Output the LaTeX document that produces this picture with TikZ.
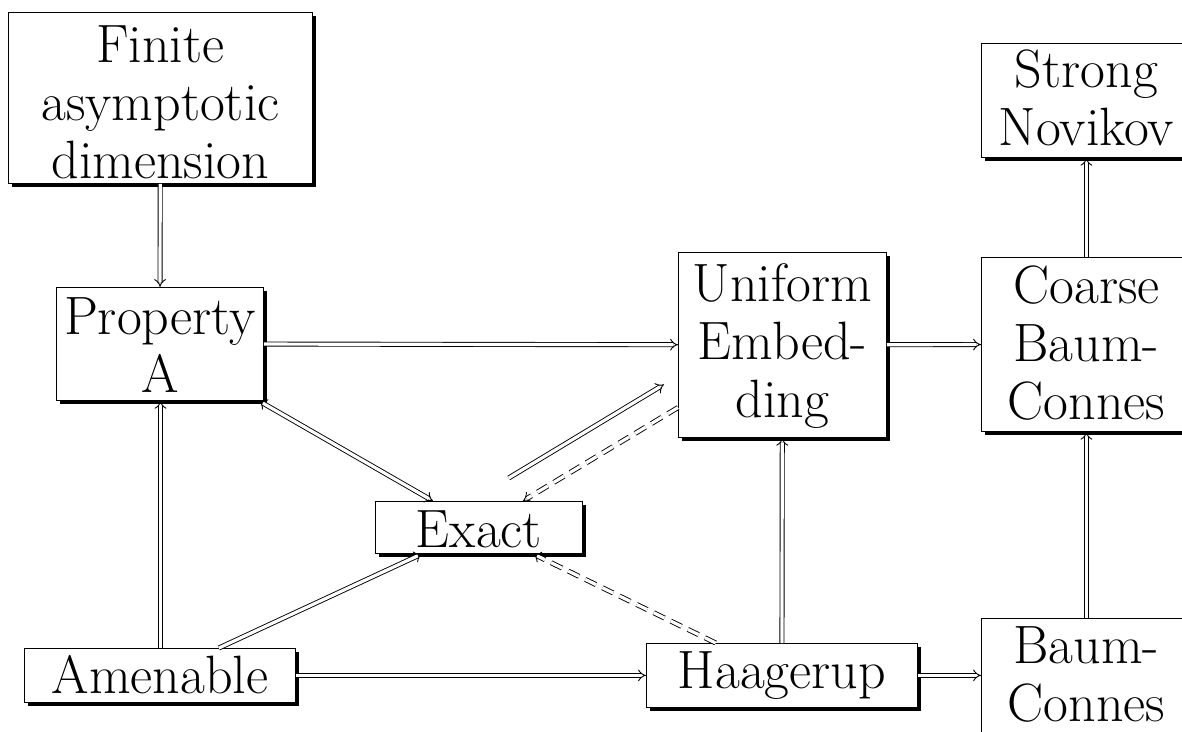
\documentclass[tikz,border=0pt]{standalone}
\usetikzlibrary{arrows.meta,shadows}
\begin{document}
\begin{tikzpicture}[x=1pt,y=1pt,
  box/.style={draw=black, line width=0.8pt, fill=white, inner sep=0pt, align=center, anchor=north west,
     drop shadow={shadow xshift=4pt, shadow yshift=-4pt, opacity=1, fill=black}},
  imp/.style={double, double distance=3.2pt, line width=0.9pt, -{Implies[scale=1.3]}},
  bimp/.style={imp, {Implies[scale=1.3]}-{Implies[scale=1.3]}},
  dimp/.style={imp, dash pattern=on 12pt off 7pt},
  font=\fontsize{54}{58}\selectfont]
\useasboundingbox (0,0) rectangle (1182,731);
\clip (0,0) rectangle (1182,731);
\node[box, text width=304pt, text height=50pt, text depth=121pt] (fin) at (8,719) {Finite\\asymptotic\\dimension};
\node[box, text width=207pt, text height=47pt, text depth=66pt] (pa) at (56,444) {Property\\A};
\node[box, text width=207pt, text height=46pt, text depth=6pt] (exact) at (375,230) {Exact};
\node[box, text width=208pt, text height=49pt, text depth=136pt] (ue) at (678,479) {Uniform\\Embed-\\ding};
\node[box, text width=210pt, text height=44pt, text depth=70pt] (sn) at (981,688) {Strong\\Novikov};
\node[box, text width=210pt, text height=46pt, text depth=128pt] (cbc) at (981,474) {Coarse\\Baum-\\Connes};
\node[box, text width=210pt, text height=45pt, text depth=97pt] (bc) at (981,113) {Baum-\\Connes};
\node[box, text width=271pt, text height=45pt, text depth=9pt] (amen) at (24,83) {Amenable};
\node[box, text width=271pt, text height=45pt, text depth=19pt] (haag) at (646,88) {Haagerup};

\draw[imp] (fin) -- (pa);
\draw[imp] (pa) -- (ue);
\draw[bimp] (pa) -- (exact);
\draw[imp, transform canvas={shift={(-14pt,23pt)}}] (exact) -- (ue);
\draw[dimp] (ue) -- (exact);
\draw[imp] (amen) -- (exact);
\draw[dimp] (haag) -- (exact);
\draw[imp] ([xshift=0.6pt]amen.north) -- ([xshift=0.6pt]pa.south);
\draw[imp] (amen) -- (haag);
\draw[imp] (haag) -- (ue);
\draw[imp] (ue) -- (cbc);
\draw[imp] (haag) -- (haag -| bc.west);
\draw[imp] (bc) -- (cbc);
\draw[imp] (cbc) -- (sn);
\end{tikzpicture}
\end{document}
